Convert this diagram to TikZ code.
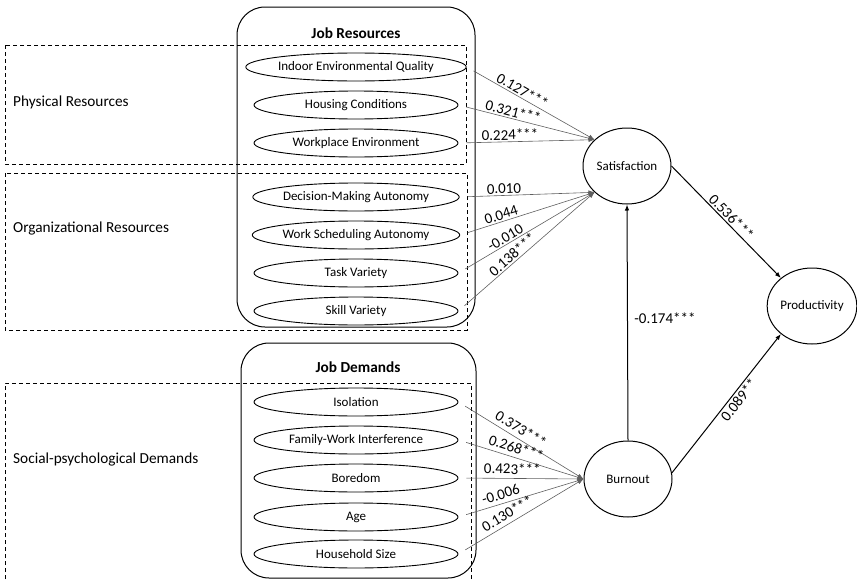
\documentclass[tikz,border=0pt]{standalone}
\usepackage{fontspec}
\setmainfont{Carlito}
\usepackage{xcolor}
\usetikzlibrary{arrows.meta,calc,positioning,shapes.geometric}
\definecolor{InkCol}{RGB}{0,0,0}
\definecolor{PathCol}{RGB}{95,95,95}
\tikzset{
  jdgroup/.style={draw=InkCol, line width=0.9pt, dash pattern=on 4pt off 3pt},
  jdbox/.style={draw=InkCol, line width=1pt, rounded corners=28pt},
  jditem/.style={ellipse, draw=InkCol, line width=0.9pt, minimum width=204pt, minimum height=28pt, inner sep=0pt, font=\fontsize{13}{15}\selectfont},
  jdlatent/.style={ellipse, draw=InkCol, line width=1pt, minimum width=88pt, minimum height=76pt, inner sep=0pt, font=\fontsize{13}{15}\selectfont},
  jdpath/.style={-{Latex[length=6pt,width=4.5pt]}, line width=0.6pt, draw=PathCol, shorten <=8pt},
  jdmain/.style={-{Latex[length=6pt,width=4.5pt]}, line width=1pt, draw=InkCol},
  jdcoef/.style={font=\fontsize{15}{16}\selectfont, sloped, inner sep=1.5pt},
  jdside/.style={font=\fontsize{15.3}{17}\selectfont, anchor=west, inner sep=0pt},
  jdtitle/.style={font=\fontsize{15.3}{17}\selectfont\bfseries}
}

\begin{document}
\begin{tikzpicture}[x=1pt,y=-1pt]
  \useasboundingbox (0,0) rectangle (857,581);
  % groups
  \draw[jdbox] (237,7) rectangle (475,327);
  \draw[jdbox] (241,343) rectangle (476,578);
  \draw[jdgroup] (5,45) rectangle (466,164);
  \draw[jdgroup] (5,173) rectangle (467,330);
  \draw[jdgroup] (5,600) -- (5,383) -- (471,383) -- (471,600);
  \node[jdside] (physlab) at (13,102) {Physical Resources};
  \node[jdside] (orglab) at (13,228) {Organizational Resources};
  \node[jdside] (soclab) at (13,459) {Social-psychological Demands};
  \node[jdtitle] (jrtitle) at (356,33) {Job Resources};
  \node[jdtitle] (jdtitle) at (358,367) {Job Demands};
  % observed items
  \foreach \nm/\yy/\txt in {jr1/67/Indoor Environmental Quality,jr2/105/Housing Conditions,
    jr3/143/Workplace Environment,jr4/197/Decision-Making Autonomy,jr5/235/Work Scheduling Autonomy,
    jr6/273/Task Variety,jr7/311/Skill Variety}
    \node[jditem] (\nm) at (356,\yy) {\txt};
  \foreach \nm/\yy/\txt in {jd1/402/Isolation,jd2/440/Family-Work Interference,
    jd3/478/Boredom,jd4/517/Age,jd5/554/Household Size}
    \node[jditem] (\nm) at (356,\yy) {\txt};
  % latent
  \node[jdlatent] (sat) at (627,166) {Satisfaction};
  \node[jdlatent] (burn) at (628,479) {Burnout};
  \node[jdlatent] (prod) at (812,306) {Productivity};
  % paths
  \foreach \src/\tip/\ps/\cf in {jr1/141/0.41/0.127***,jr2/141/0.39/0.321***,jr3/141/0.38/0.224***,
    jr4/219/0.33/0.010,jr5/219/0.32/0.044,jr6/219/0.37/-0.010,jr7/219/0.43/0.138***}
    \draw[jdpath] (\src.east) -- (sat.\tip) node[jdcoef,above,pos=\ps] {\cf};
  \foreach \src/\ps/\cf in {jd1/0.46/0.373***,jd2/0.44/0.268***,jd3/0.43/0.423***,
    jd4/0.36/-0.006,jd5/0.43/0.130***}
    \draw[jdpath] (\src.east) -- (burn.west) node[jdcoef,above=2.5pt,pos=\ps] {\cf};
  \draw[jdmain] (burn.north) -- (sat.south) node[right=3pt,pos=0.52,font=\fontsize{15}{16}\selectfont] {-0.174***};
  \draw[jdmain] (sat.east) -- (prod.138) node[jdcoef,above,pos=0.5] {0.536***};
  \draw[jdmain] (burn.8) -- (prod.222) node[jdcoef,below,pos=0.56] {0.089**};
\end{tikzpicture}
\end{document}
